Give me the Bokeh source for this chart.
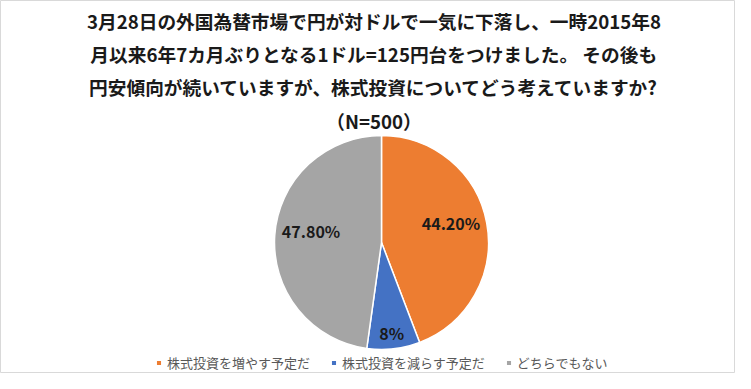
import math
from bokeh.plotting import figure
from bokeh.models import ColumnDataSource, Range1d, Label, Legend, LegendItem
from bokeh.core.properties import value
from bokeh.embed import file_html
from bokeh.resources import INLINE

# ---- data ----
categories = ["株式投資を増やす予定だ", "株式投資を減らす予定だ", "どちらでもない"]
shares = [44.2, 8.0, 47.8]
share_labels = ["44.20%", "8%", "47.80%"]
colors = ["#ED7D31", "#4472C4", "#A5A5A5"]
title_lines = [
    "3月28日の外国為替市場で円が対ドルで一気に下落し、一時2015年8",
    "月以来6年7カ月ぶりとなる1ドル=125円台をつけました。 その後も",
    "円安傾向が続いていますが、株式投資についてどう考えていますか?",
    "（N=500）",
]

W, H = 735, 373
FONT = "Noto Sans CJK JP"
cx, cy, R = 381, 131, 107

total = sum(shares)
starts, ends, lx, ly = [], [], [], []
cum = 0.0
for s in shares:
    a0 = math.pi / 2 - cum / total * 2 * math.pi
    cum += s
    a1 = math.pi / 2 - cum / total * 2 * math.pi
    starts.append(a0)
    ends.append(a1)
    mid = (a0 + a1) / 2
    rf = 0.85 if s / total < 0.1 else 0.66
    lx.append(cx + rf * R * math.cos(mid))
    ly.append(cy + rf * R * math.sin(mid) + (0 if s / total < 0.1 else 7))

src = ColumnDataSource(dict(cat=categories, start=starts, end=ends, color=colors,
                            lx=lx, ly=ly, lab=share_labels))

p = figure(width=W, height=H, output_backend="svg", toolbar_location=None,
           x_range=Range1d(0, W), y_range=Range1d(0, H), min_border=0)
p.axis.visible = False
p.grid.visible = False
p.outline_line_color = "#D9D9D9"
p.outline_line_width = 1
p.background_fill_color = "white"
p.border_fill_color = "white"

wr = p.wedge(x=cx, y=cy, radius=R, start_angle="start", end_angle="end",
             direction="clock", fill_color="color", line_color="white",
             line_width=1.5, source=src)

p.text(x="lx", y="ly", text="lab", source=src, text_align="center",
       text_baseline="middle", text_font=value(FONT), text_font_style="bold",
       text_font_size="16px", text_color="#1A1A1A")

ty = [353, 320, 287, 253]
for t, y in zip(title_lines, ty):
    p.add_layout(Label(x=373.5, y=y, text=t, text_align="center",
                       text_baseline="middle", text_font=FONT,
                       text_font_style="bold", text_font_size="18.7px",
                       text_color="#1A1A1A"))

items = [LegendItem(label=c, renderers=[wr], index=i) for i, c in enumerate(categories)]
legend = Legend(items=items, orientation="horizontal", location=(155, 1),
                glyph_width=7, glyph_height=7, label_standoff=5, spacing=20,
                padding=0, margin=0, border_line_alpha=0, background_fill_alpha=0,
                label_text_font=FONT, label_text_font_size="13px",
                label_text_color="#595959")
p.add_layout(legend, "center")

open("out.html", "w").write(file_html(p, INLINE))
